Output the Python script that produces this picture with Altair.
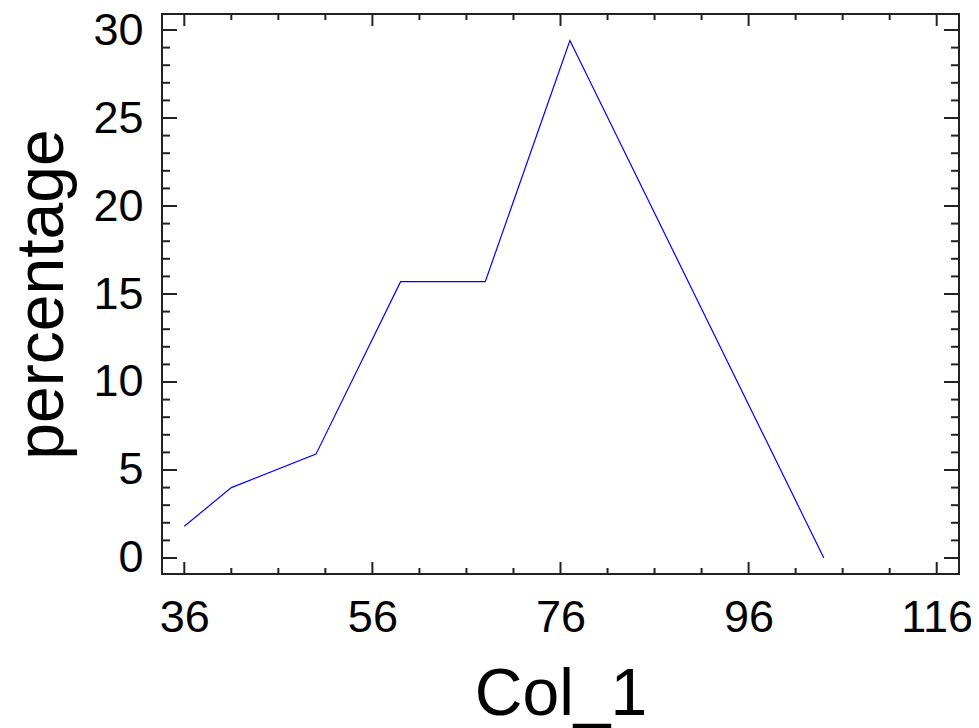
import altair as alt
import pandas as pd

col_1 = [36, 41, 50, 59, 68, 77, 104]
percentage = [1.8, 4.0, 5.9, 15.7, 15.7, 29.4, 0.0]

x_major = [36, 56, 76, 96, 116]
x_minor = [v for v in range(36, 117, 5) if v not in x_major]
y_major = [0, 5, 10, 15, 20, 25, 30]
y_minor = [v for v in range(0, 31) if v not in y_major]

W, H = 797, 560
FONT = "Liberation Sans"

df = pd.DataFrame({"Col_1": col_1, "percentage": percentage})
xscale = alt.Scale(domain=[33.63, 118.37], nice=False, zero=False)
yscale = alt.Scale(domain=[-0.91, 30.91], nice=False, zero=False)

xaxis = alt.Axis(values=x_major, ticks=False, domain=False, grid=False,
                 labelFont=FONT, labelFontSize=45, labelColor="black",
                 labelBaseline="alphabetic", labelPadding=57,
                 titleFont=FONT, titleFontSize=66, titleFontWeight="normal",
                 titleColor="black", titleBaseline="alphabetic",
                 titleX=W / 2, titleY=140, titleAlign="center")
yaxis = alt.Axis(values=y_major, ticks=False, domain=False, grid=False,
                 labelFont=FONT, labelFontSize=45, labelColor="black",
                 labelBaseline="middle", labelPadding=19,
                 titleFont=FONT, titleFontSize=66, titleFontWeight="normal",
                 titleColor="black", titleBaseline="alphabetic",
                 titleX=-100, titleY=H / 2, titleAlign="center", titleAngle=-90)

line = alt.Chart(df).mark_line(color="#0000ff", strokeWidth=1.2).encode(
    x=alt.X("Col_1:Q", scale=xscale, title="Col_1", axis=xaxis),
    y=alt.Y("percentage:Q", scale=yscale, title="percentage", axis=yaxis),
)

def xticks(vals, y0, y1):
    d = pd.DataFrame({"Col_1": vals})
    return alt.Chart(d).mark_rule(color="#222222", strokeWidth=2).encode(
        x=alt.X("Col_1:Q", scale=xscale, title="Col_1", axis=xaxis),
        y=alt.value(y0), y2=alt.value(y1))

def yticks(vals, x0, x1):
    d = pd.DataFrame({"percentage": vals})
    return alt.Chart(d).mark_rule(color="#222222", strokeWidth=2).encode(
        y=alt.Y("percentage:Q", scale=yscale, title="percentage", axis=yaxis),
        x=alt.value(x0), x2=alt.value(x1))

chart = alt.layer(
    line,
    xticks(x_major, H, H - 12), xticks(x_minor, H, H - 6),
    xticks(x_major, 0, 12), xticks(x_minor, 0, 6),
    yticks(y_major, 0, 15), yticks(y_minor, 0, 8),
    yticks(y_major, W, W - 15), yticks(y_minor, W, W - 8),
).properties(
    width=W, height=H,
    background="white",
    autosize=alt.AutoSizeParams(type="none"),
    padding={"left": 154, "top": 6, "right": 12, "bottom": 156},
).configure_view(stroke="#222222", strokeWidth=2)

chart.save("out.html", embed_options={"renderer": "svg", "actions": False})
